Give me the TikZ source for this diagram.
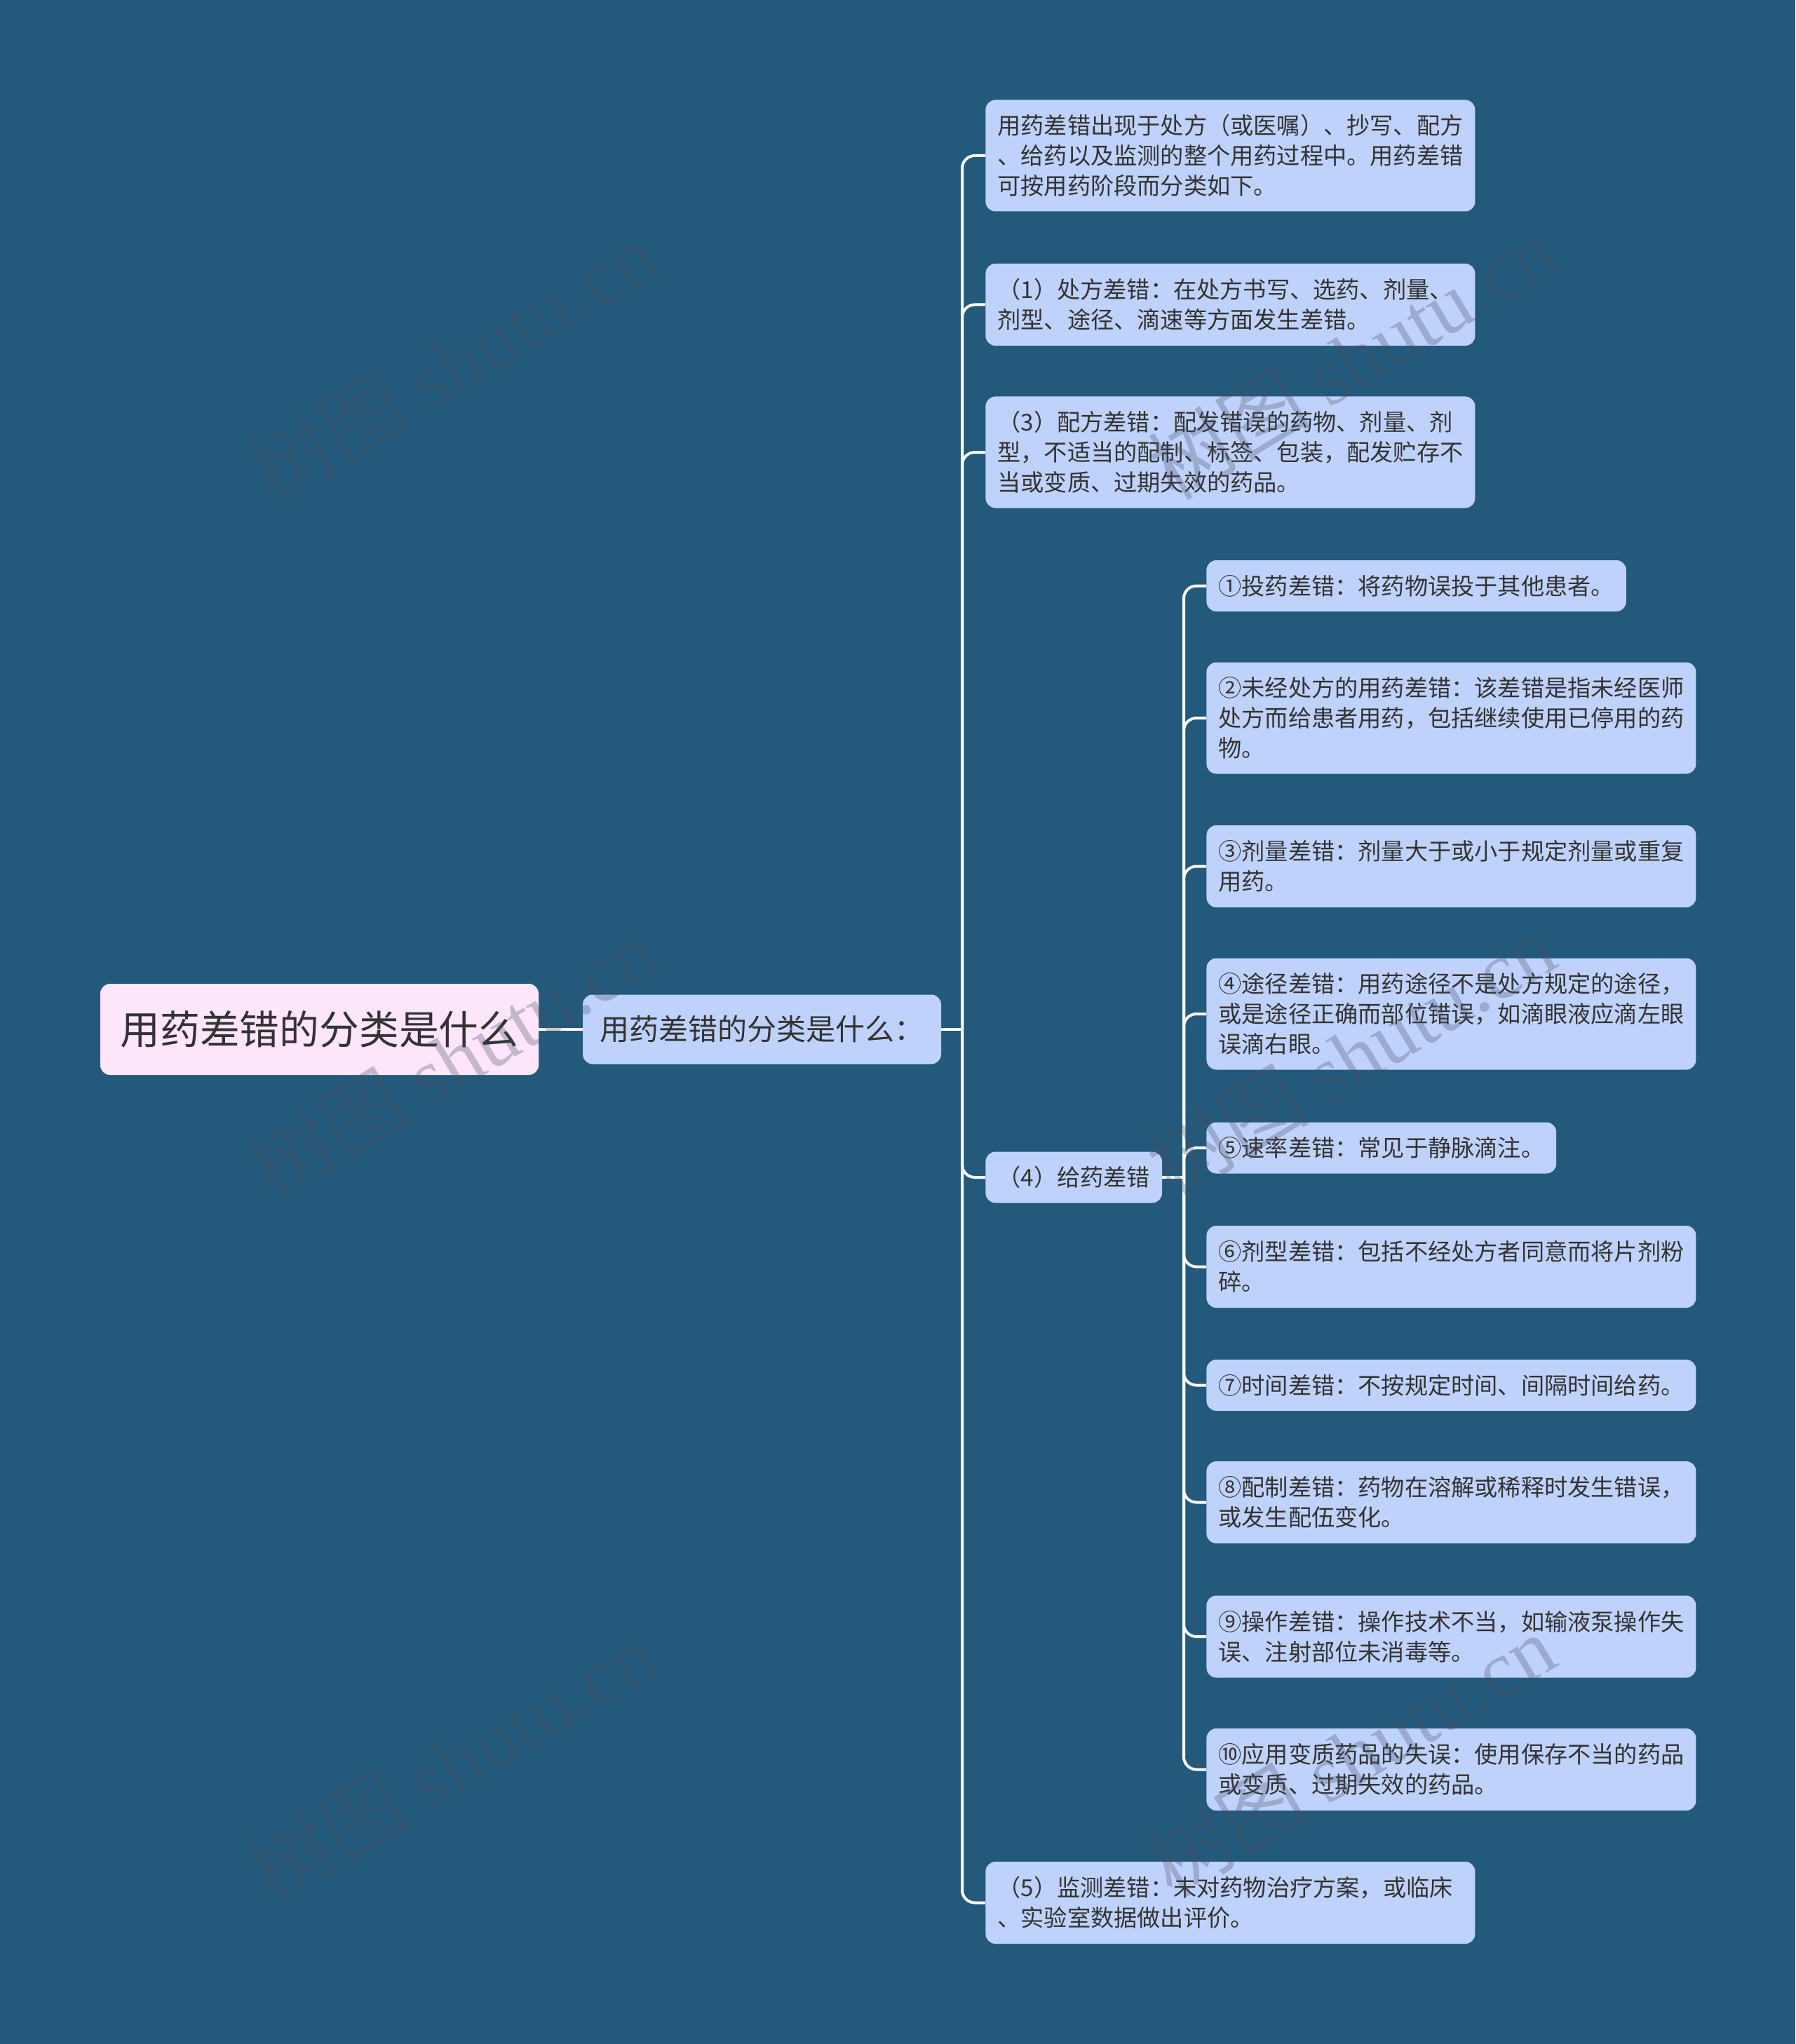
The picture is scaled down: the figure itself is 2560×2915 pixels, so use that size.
\documentclass[tikz,border=0pt]{standalone}
\usepackage{fontspec}
\setmainfont{Noto Sans CJK SC}
\newfontfamily\wmserif{Liberation Serif}
\definecolor{bg}{RGB}{35,89,122}
\definecolor{nodefill}{RGB}{191,210,252}
\definecolor{rootfill}{RGB}{253,229,250}
\definecolor{txt}{RGB}{51,51,51}
\definecolor{wmgray}{RGB}{72,80,100}
\tikzset{
  box/.style={fill=nodefill, rounded corners=7pt, text=txt, inner xsep=8.5pt, inner ysep=0pt,
              anchor=west, align=left, font=\fontsize{16.6}{21.5}\selectfont},
  wide/.style={text width=332pt},
  one/.style={minimum height=36.5pt},
  two/.style={minimum height=58.5pt},
  three/.style={minimum height=79.5pt},
  link/.style={draw=white, line width=2pt, rounded corners=9pt},
  wm/.style={text=wmgray, text opacity=0.3, rotate=31, font=\fontsize{58}{58}\selectfont}
}
\begin{document}
\begin{tikzpicture}[x=0.5pt, y=-0.5pt]
\useasboundingbox (0,0) rectangle (2560,2915);
\fill[bg] (0,0) rectangle (2560,2915);

% root and first level
\node[fill=rootfill, rounded corners=7pt, text=txt, minimum width=312.5pt, minimum height=65pt,
      inner sep=0pt, font=\fontsize{28.4}{34}\selectfont] (root) at (455.5,1468) {用药差错的分类是什么};
\node[fill=nodefill, rounded corners=7pt, text=txt, minimum width=255.5pt, minimum height=49.5pt,
      inner sep=0pt, font=\fontsize{21}{26}\selectfont] (L1) at (1086.5,1468) {用药差错的分类是什么：};

% second level
\node[box, wide, three] (A) at (1405,222) {用药差错出现于处方（或医嘱）、抄写、配方\\、给药以及监测的整个用药过程中。用药差错\\可按用药阶段而分类如下。};
\node[box, wide, two] (B) at (1405,434.5) {（1）处方差错：在处方书写、选药、剂量、\\剂型、途径、滴速等方面发生差错。};
\node[box, wide, three] (C) at (1405,645) {（3）配方差错：配发错误的药物、剂量、剂\\型，不适当的配制、标签、包装，配发贮存不\\当或变质、过期失效的药品。};
\node[box, one, minimum width=125.5pt, align=center] (D) at (1405,1679) {（4）给药差错};
\node[box, wide, two] (E) at (1405,2713.5) {（5）监测差错：未对药物治疗方案，或临床\\、实验室数据做出评价。};

% third level
\node[box, one] (n1) at (1720,835.5) {①投药差错：将药物误投于其他患者。};
\node[box, wide, three] (n2) at (1720,1024) {②未经处方的用药差错：该差错是指未经医师\\处方而给患者用药，包括继续使用已停用的药\\物。};
\node[box, wide, two] (n3) at (1720,1235.5) {③剂量差错：剂量大于或小于规定剂量或重复\\用药。};
\node[box, wide, three] (n4) at (1720,1446) {④途径差错：用药途径不是处方规定的途径，\\或是途径正确而部位错误，如滴眼液应滴左眼\\误滴右眼。};
\node[box, one] (n5) at (1720,1637) {⑤速率差错：常见于静脉滴注。};
\node[box, wide, two] (n6) at (1720,1806.5) {⑥剂型差错：包括不经处方者同意而将片剂粉\\碎。};
\node[box, wide, one] (n7) at (1720,1975.5) {⑦时间差错：不按规定时间、间隔时间给药。};
\node[box, wide, two] (n8) at (1720,2142.5) {⑧配制差错：药物在溶解或稀释时发生错误，\\或发生配伍变化。};
\node[box, wide, two] (n9) at (1720,2334) {⑨操作差错：操作技术不当，如输液泵操作失\\误、注射部位未消毒等。};
\node[box, wide, two] (n10) at (1720,2523.5) {⑩应用变质药品的失误：使用保存不当的药品\\或变质、过期失效的药品。};

% connectors
\coordinate (j1) at (1372,1468);
\coordinate (j2) at (1688,1679);
\draw[link] (root.east) -- (L1.west);
\draw[link] (L1.east) -- (j1);
\foreach \n in {A,B,C,D,E} \draw[link] (j1) |- (\n.west);
\draw[link] (D.east) -- (j2);
\foreach \n in {n1,n2,n3,n4,n5,n6,n7,n8,n9,n10} \draw[link] (j2) |- (\n.west);

% watermarks
\node[wm] (wm1) at (645,517) {树图 {\wmserif shutu.cn}};
\node[wm] (wm2) at (1928,511) {树图 {\wmserif shutu.cn}};
\node[wm] (wm3) at (645,1510) {树图 {\wmserif shutu.cn}};
\node[wm] (wm4) at (1926,1506) {树图 {\wmserif shutu.cn}};
\node[wm] (wm5) at (645,2513) {树图 {\wmserif shutu.cn}};
\node[wm] (wm6) at (1926,2503) {树图 {\wmserif shutu.cn}};
\end{tikzpicture}
\end{document}
